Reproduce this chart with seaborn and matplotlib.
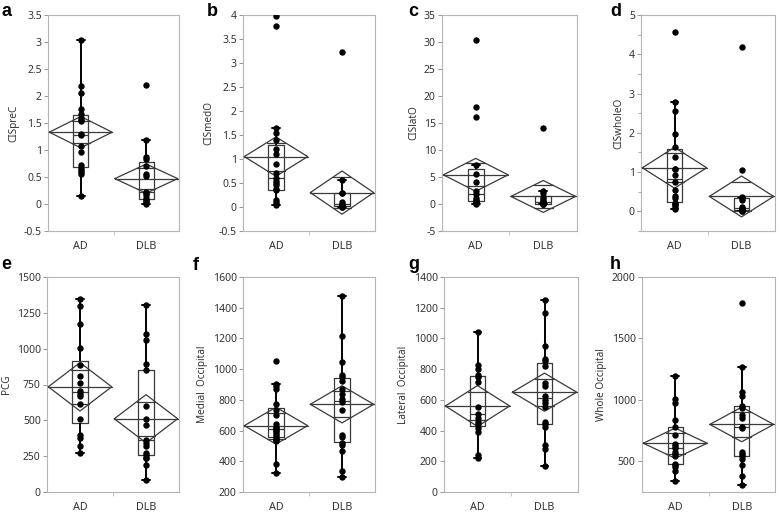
import numpy as np
import pandas as pd
import seaborn as sns
import matplotlib.pyplot as plt
from matplotlib.ticker import MultipleLocator, FuncFormatter, FixedLocator

# groups
groups = ['AD', 'DLB']

# individual values, per panel and group
cispre_ad = [3.04, 2.19, 2.05, 1.75, 1.66, 1.60, 1.56, 1.54, 1.30, 1.27, 1.08, 0.97, 0.72, 0.67, 0.63, 0.60, 0.56, 0.14]
cispre_dlb = [2.20, 1.18, 0.87, 0.83, 0.71, 0.55, 0.51, 0.23, 0.20, 0.17, 0.12, 0.08, 0.05, 0.02, 0.0]
cismed_ad = [3.97, 3.78, 1.64, 1.55, 1.40, 1.20, 1.10, 0.89, 0.70, 0.60, 0.55, 0.50, 0.45, 0.37, 0.35, 0.15, 0.10, 0.07, 0.04]
cismed_dlb = [3.22, 0.56, 0.30, 0.29, 0.10, 0.07, 0.04, 0.03, 0.02, 0.01, 0.0]
cislat_ad = [30.3, 17.9, 16.2, 7.3, 5.5, 4.0, 2.4, 1.8, 1.2, 0.8, 0.6, 0.4, 0.2, 0.1, 0.0]
cislat_dlb = [14.1, 2.5, 2.0, 1.3, 1.0, 0.6, 0.3, 0.2, 0.1, 0.05, 0.0, 0.0]
ciswhole_ad = [4.57, 2.78, 2.55, 1.97, 1.65, 1.39, 1.09, 1.07, 0.92, 0.75, 0.54, 0.40, 0.33, 0.21, 0.18, 0.15, 0.10, 0.05]
ciswhole_dlb = [4.18, 1.06, 0.36, 0.33, 0.30, 0.11, 0.08, 0.06, 0.05, 0.03, 0.01, 0.0]
pcg_ad = [1345, 1300, 1175, 1008, 883, 810, 759, 706, 685, 667, 612, 508, 400, 375, 320, 272]
pcg_dlb = [1308, 1100, 1062, 893, 851, 598, 506, 465, 366, 345, 322, 274, 258, 240, 235, 186, 85]
medial_ad = [1053, 905, 888, 872, 771, 735, 704, 642, 625, 615, 604, 600, 585, 568, 560, 546, 540, 535, 382, 326]
medial_dlb = [1476, 1213, 1048, 963, 950, 920, 870, 840, 803, 788, 734, 574, 557, 518, 505, 465, 339, 300]
lateral_ad = [1040, 825, 803, 761, 746, 718, 554, 505, 484, 456, 441, 416, 390, 243, 219]
lateral_dlb = [1253, 1166, 952, 867, 850, 820, 710, 690, 622, 601, 580, 554, 456, 441, 426, 303, 283, 170]
whole_ad = [1197, 1009, 974, 835, 780, 712, 640, 626, 610, 575, 560, 543, 479, 470, 452, 417, 337]
whole_dlb = [1791, 1269, 1060, 1028, 947, 930, 875, 854, 781, 770, 578, 559, 540, 520, 473, 377, 310]

# means diamonds (group mean and half width of the 95% CI)
diamond_mean = [[1.33, 0.47], [1.05, 0.30], [5.4, 1.4], [1.11, 0.38],
                [734, 511], [632, 771], [560, 650], [647, 800]]
diamond_half = [[0.29, 0.27], [0.41, 0.45], [3.05, 2.95], [0.52, 0.52],
                [169, 168], [120, 121], [133, 124], [123, 141]]

panel_values = [(cispre_ad, cispre_dlb), (cismed_ad, cismed_dlb), (cislat_ad, cislat_dlb),
                (ciswhole_ad, ciswhole_dlb), (pcg_ad, pcg_dlb), (medial_ad, medial_dlb),
                (lateral_ad, lateral_dlb), (whole_ad, whole_dlb)]
ylabels = ['CISpreC', 'CISmedO', 'CISlatO', 'CISwholeO', 'PCG',
           'Medial  Occipital', 'Lateral  Occipital', 'Whole Occipital']
letters = ['a', 'b', 'c', 'd', 'e', 'f', 'g', 'h']
ylims = [(-0.5, 3.5), (-0.5, 4), (-5, 35), (-0.5, 5), (0, 1500), (200, 1600), (0, 1400), (250, 2000)]
ysteps = [0.5, 0.5, 5, 1, 250, 200, 200, 500]

sns.set_theme(style='white')
plt.rcParams['font.family'] = ['Noto Sans', 'DejaVu Sans']

W, H = 778, 514
fig = plt.figure(figsize=(W / 100, H / 100), dpi=100)

# axes boxes in pixels: left, top, right, bottom
boxes = [(48, 15, 179, 231), (243, 15, 375, 231), (442, 15, 577, 231), (641, 15, 775, 231),
         (47, 277, 179, 492), (243, 277, 375, 492), (444, 277, 578, 492), (642, 277, 775, 492)]
letter_pos = [(2, 16), (207, 16), (408, 16), (610, 16), (1, 269), (193, 270), (408, 269), (610, 269)]

line_col = '#3a3a3a'
dw = 0.48

for k in range(8):
    l, t, r, b = boxes[k]
    ax = fig.add_axes([l / W, 1 - b / H, (r - l) / W, (b - t) / H])
    ad, dlb = panel_values[k]
    df = pd.DataFrame({'group': ['AD'] * len(ad) + ['DLB'] * len(dlb),
                       'value': ad + dlb})

    sns.boxplot(data=df, x='group', y='value', order=groups, ax=ax,
                width=0.23, whis=1.5, fill=False, showfliers=False,
                color=line_col, linewidth=0.9,
                whiskerprops=dict(color='black', linewidth=1.4),
                capprops=dict(color='black', linewidth=1.4),
                medianprops=dict(color=line_col, linewidth=0.9))
    sns.stripplot(data=df, x='group', y='value', order=groups, ax=ax,
                  jitter=False, color='black', size=4.6, linewidth=0, zorder=5)

    # means diamonds with mean line and overlap marks
    for i in range(2):
        m = diamond_mean[k][i]
        h = diamond_half[k][i]
        ax.plot([i - dw, i, i + dw, i, i - dw], [m, m + h, m, m - h, m],
                color=line_col, lw=0.9, zorder=4)
        ax.plot([i - dw, i + dw], [m, m], color=line_col, lw=0.9, zorder=4)
        hw = dw * (1 - 1 / np.sqrt(2))
        for s in (1, -1):
            yy = m + s * h / np.sqrt(2)
            ax.plot([i - hw, i + hw], [yy, yy], color=line_col, lw=0.9, zorder=4)

    ax.set_xlim(-0.5, 1.5)
    ax.set_ylim(*ylims[k])
    ax.yaxis.set_major_locator(MultipleLocator(ysteps[k]))
    if k == 3:
        ax.yaxis.set_minor_locator(MultipleLocator(0.5))
    ax.yaxis.set_major_formatter(FuncFormatter(lambda v, p: '{:g}'.format(round(v, 3))))
    ax.xaxis.set_minor_locator(FixedLocator([0.5]))
    ax.set_xlabel('')
    ax.set_ylabel(ylabels[k], fontsize=7.2, color='#333333', labelpad=3)
    ax.tick_params(axis='y', which='major', left=True, length=3, width=0.6,
                   color='#888888', labelsize=7.5, labelcolor='#333333', pad=1.5)
    ax.tick_params(axis='y', which='minor', left=True, length=2, width=0.5, color='#888888')
    ax.tick_params(axis='x', which='major', bottom=False, labelsize=7.8, labelcolor='#333333', pad=1)
    ax.tick_params(axis='x', which='minor', bottom=True, length=3, width=0.6, color='#bbbbbb')
    for sp in ax.spines.values():
        sp.set_color('#b5b5b5')
        sp.set_linewidth(0.8)

    fig.text(letter_pos[k][0] / W, 1 - letter_pos[k][1] / H, letters[k],
             fontsize=13, fontweight='bold', family=['Liberation Sans', 'DejaVu Sans'],
             va='baseline', ha='left', color='black')

fig.savefig('out.png', dpi=100)
